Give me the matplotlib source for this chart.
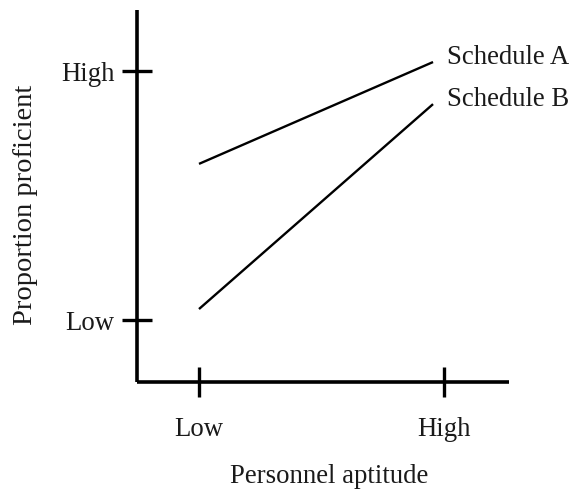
import matplotlib
matplotlib.use("Agg")
import matplotlib.pyplot as plt

# data (arbitrary units: 0 = Low, 1 = High)
aptitude = [0.0, 0.955]
schedule_a = [0.627, 1.036]
schedule_b = [0.044, 0.867]
series_names = ["Schedule A", "Schedule B"]
tick_pos = [0, 1]
tick_labels = ["Low", "High"]

W, H = 572, 491
plt.rcParams["font.family"] = ["Liberation Serif", "DejaVu Serif"]
fs = 19.3

fig = plt.figure(figsize=(W / 100, H / 100), dpi=100)
ax = fig.add_axes([137 / W, 1 - 382 / H, (509 - 137) / W, (382 - 10) / H])

for ys, name in zip([schedule_a, schedule_b], series_names):
    ax.plot(aptitude, ys, color="black", lw=1.7, solid_capstyle="butt")
    ax.annotate(name, xy=(aptitude[-1], ys[-1]), xytext=(10, 3.5),
                textcoords="offset points", ha="left", va="center",
                fontsize=fs, color="#1a1a1a")

ax.set_xlim(-0.253, 1.265)
ax.set_ylim(-0.249, 1.245)

for s in ["top", "right"]:
    ax.spines[s].set_visible(False)
for s in ["left", "bottom"]:
    ax.spines[s].set_linewidth(2.6)
    ax.spines[s].set_capstyle("butt")

ax.set_xticks(tick_pos)
ax.set_xticklabels(tick_labels)
ax.set_yticks(tick_pos)
ax.set_yticklabels(tick_labels)
ax.tick_params(axis="both", direction="inout", length=22, width=2.4,
               labelsize=fs, labelcolor="#1a1a1a")
ax.tick_params(axis="x", pad=14)
ax.tick_params(axis="y", pad=5)

fig.text(329 / W, 1 - 483 / H, "Personnel aptitude", ha="center",
         va="baseline", fontsize=fs, color="#1a1a1a")
fig.text(26 / W, 1 - 205 / H, "Proportion proficient", ha="center",
         va="center", rotation=90, fontsize=20.5, color="#1a1a1a")

fig.savefig("out.png", dpi=100)
